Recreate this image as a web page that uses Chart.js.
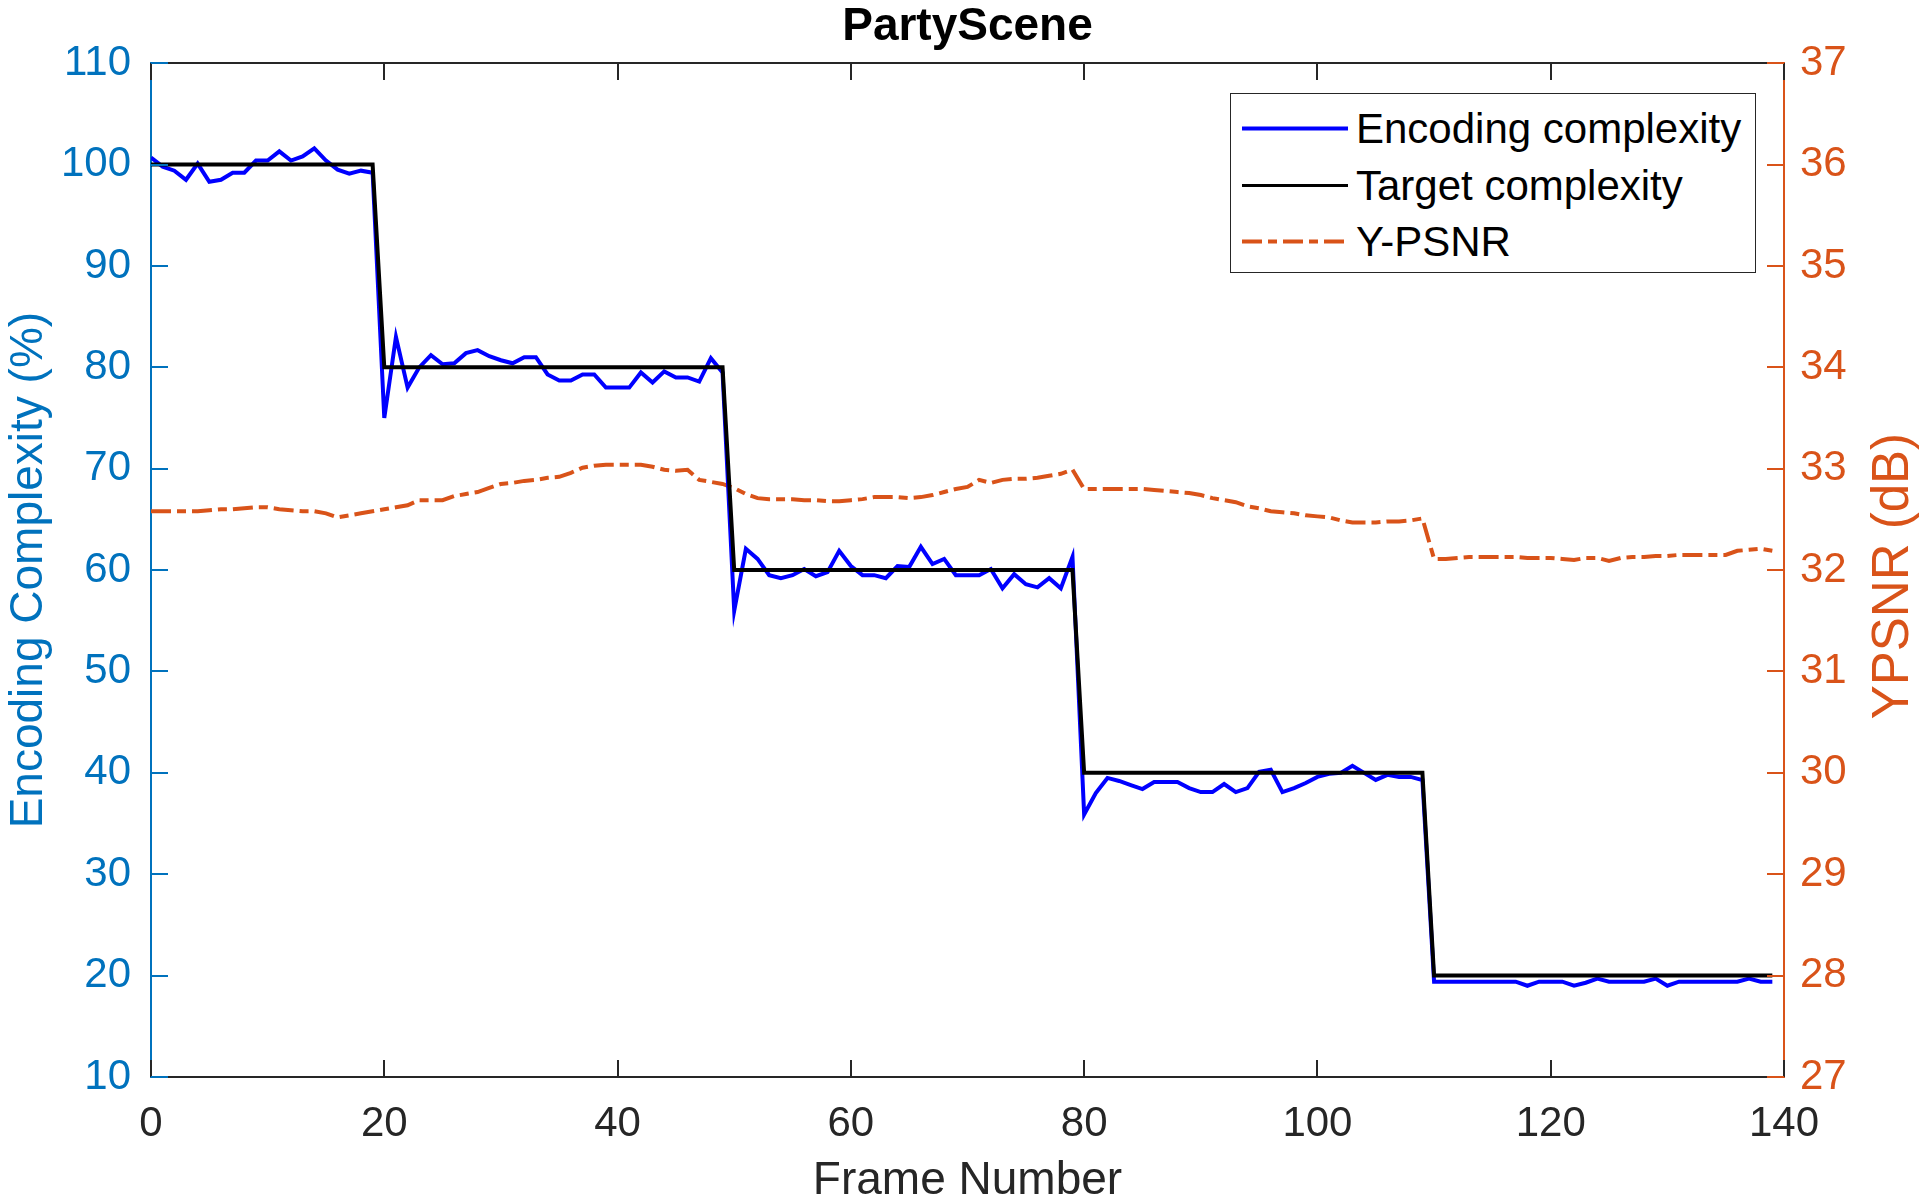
<!DOCTYPE html>
<html>
<head>
<meta charset="utf-8">
<script src="https://cdn.jsdelivr.net/npm/chart.js@4.4.1/dist/chart.umd.min.js"></script>
<style>
html,body{margin:0;padding:0;background:#fff;}
#wrap{position:relative;width:1920px;height:1204px;}
canvas{display:block;}
#legend{position:absolute;left:1230px;top:93px;width:524px;height:178px;border:1.5px solid #262626;background:#fff;font-family:"Liberation Sans",Arial,sans-serif;font-size:42px;color:#000;}
.row{position:absolute;left:0;height:57px;line-height:57px;width:100%;}
.row svg{position:absolute;left:11px;top:0;}
.row span{position:absolute;left:125px;top:0;white-space:nowrap;}
</style>
</head>
<body>
<div id="wrap">
  <canvas id="c" width="1920" height="1204"></canvas>
  <div id="legend"></div>
</div>
<script>
// ---------- data ----------
const chartTitle = "PartyScene";
const xTitle = "Frame Number";
const yLeftTitle = "Encoding Complexity (%)";
const yRightTitle = "YPSNR (dB)";
const seriesNames = ["Encoding complexity", "Target complexity", "Y-PSNR"];

const frames = [
  0,1,2,3,4,5,6,7,8,9,10,11,12,13,14,15,16,17,18,19,
  20,21,22,23,24,25,26,27,28,29,30,31,32,33,34,35,36,37,38,39,
  40,41,42,43,44,45,46,47,48,49,50,51,52,53,54,55,56,57,58,59,
  60,61,62,63,64,65,66,67,68,69,70,71,72,73,74,75,76,77,78,79,
  80,81,82,83,84,85,86,87,88,89,90,91,92,93,94,95,96,97,98,99,
  100,101,102,103,104,105,106,107,108,109,110,111,112,113,114,115,116,117,118,119,
  120,121,122,123,124,125,126,127,128,129,130,131,132,133,134,135,136,137,138,139
];

const encodingComplexity = [
  100.7,99.8,99.4,98.5,100.1,98.3,98.5,99.2,99.2,100.4,100.4,101.3,100.4,100.8,101.6,100.4,99.5,99.1,99.4,99.2,
  75.0,83.0,78.0,80.0,81.2,80.3,80.4,81.4,81.7,81.1,80.7,80.4,81.0,81.0,79.3,78.7,78.7,79.3,79.3,78.0,
  78.0,78.0,79.5,78.5,79.6,79.0,79.0,78.6,80.9,79.5,
  56.0,62.1,61.1,59.5,59.2,59.5,60.1,59.4,59.8,61.9,60.4,59.5,59.5,59.2,60.4,60.3,62.3,60.6,61.1,59.5,
  59.5,59.5,60.1,58.2,59.6,58.6,58.3,59.2,58.2,61.3,
  35.9,38.0,39.5,39.2,38.8,38.4,39.1,39.1,39.1,38.5,38.1,38.1,38.9,38.1,38.5,40.1,40.3,38.1,38.5,39.0,
  39.6,39.9,40.0,40.7,40.0,39.3,39.8,39.6,39.6,39.3,
  19.4,19.4,19.4,19.4,19.4,19.4,19.4,19.4,19.0,19.4,19.4,19.4,19.0,19.3,19.7,19.4,19.4,19.4,19.4,19.7,
  19.0,19.4,19.4,19.4,19.4,19.4,19.4,19.7,19.4,19.4
];

const targetComplexity = [
  100,100,100,100,100,100,100,100,100,100,100,100,100,100,100,100,100,100,100,100,
  80,80,80,80,80,80,80,80,80,80,80,80,80,80,80,80,80,80,80,80,80,80,80,80,80,80,80,80,80,80,
  60,60,60,60,60,60,60,60,60,60,60,60,60,60,60,60,60,60,60,60,60,60,60,60,60,60,60,60,60,60,
  40,40,40,40,40,40,40,40,40,40,40,40,40,40,40,40,40,40,40,40,40,40,40,40,40,40,40,40,40,40,
  20,20,20,20,20,20,20,20,20,20,20,20,20,20,20,20,20,20,20,20,20,20,20,20,20,20,20,20,20,20
];

const yPsnr = [
  32.58,32.58,32.58,32.58,32.58,32.59,32.60,32.60,32.61,32.62,32.62,32.60,32.59,32.58,32.58,32.56,32.52,32.54,32.56,32.58,
  32.60,32.62,32.64,32.69,32.69,32.69,32.73,32.75,32.77,32.81,32.85,32.86,32.88,32.89,32.91,32.92,32.96,33.01,33.03,33.04,
  33.04,33.04,33.04,33.02,32.99,32.98,32.99,32.89,32.87,32.85,
  32.81,32.75,32.71,32.70,32.70,32.70,32.69,32.69,32.68,32.68,32.69,32.70,32.72,32.72,32.72,32.71,32.72,32.74,32.77,32.80,
  32.82,32.89,32.86,32.89,32.90,32.90,32.91,32.93,32.95,32.99,
  32.80,32.80,32.80,32.80,32.80,32.80,32.79,32.78,32.77,32.76,32.74,32.71,32.69,32.67,32.63,32.61,32.58,32.57,32.56,32.54,
  32.53,32.52,32.49,32.47,32.47,32.47,32.48,32.48,32.49,32.51,
  32.11,32.11,32.12,32.13,32.13,32.13,32.13,32.13,32.12,32.12,32.12,32.11,32.10,32.12,32.12,32.09,32.12,32.13,32.13,32.14,
  32.14,32.15,32.15,32.15,32.15,32.15,32.19,32.20,32.21,32.19
];

const xTicks = {min: 0, max: 140, step: 20};
const yLeftTicks = {min: 10, max: 110, step: 10};
const yRightTicks = {min: 27, max: 37, step: 1};

// ---------- styles ----------
const COL_BLUE = '#0000FF';
const COL_BLACK = '#000000';
const COL_ORANGE = '#D95319';
const COL_LEFT = '#0072BD';
const COL_AX = '#262626';
const DASHDOT = [20, 6, 9, 6];
const FONT = '"Liberation Sans", Arial, Helvetica, sans-serif';

const toPts = (xs, ys) => xs.map((x, i) => ({x: x, y: ys[i]}));

Chart.defaults.font.family = FONT;

const decor = {
  id: 'decor',
  afterDraw(chart) {
    const {ctx, chartArea, scales} = chart;
    const {left, right, top, bottom} = chartArea;
    const L = 17;
    ctx.save();
    ctx.lineWidth = 2;
    ctx.lineCap = 'butt';
    const t = Math.round(top);
    // top box line
    ctx.strokeStyle = COL_AX;
    ctx.beginPath(); ctx.moveTo(left, t); ctx.lineTo(right, t); ctx.stroke();
    // x ticks (bottom + top, inward)
    ctx.beginPath();
    scales.x.ticks.forEach(tk => {
      const px = Math.round(scales.x.getPixelForValue(tk.value));
      ctx.moveTo(px, bottom); ctx.lineTo(px, bottom - L);
      ctx.moveTo(px, t); ctx.lineTo(px, t + L);
    });
    ctx.stroke();
    // left ticks
    ctx.strokeStyle = COL_LEFT;
    ctx.beginPath();
    scales.y.ticks.forEach(tk => {
      const py = Math.round(scales.y.getPixelForValue(tk.value));
      ctx.moveTo(left, py); ctx.lineTo(left + L, py);
    });
    ctx.stroke();
    // right ticks
    ctx.strokeStyle = COL_ORANGE;
    ctx.beginPath();
    scales.y1.ticks.forEach(tk => {
      const py = Math.round(scales.y1.getPixelForValue(tk.value));
      ctx.moveTo(right, py); ctx.lineTo(right - L, py);
    });
    ctx.stroke();
    // right axis title (reads bottom-to-top)
    ctx.fillStyle = COL_ORANGE;
    ctx.font = '51px ' + FONT;
    ctx.textAlign = 'center';
    ctx.textBaseline = 'middle';
    ctx.translate(1894, (top + bottom) / 2 + 6);
    ctx.rotate(-Math.PI / 2);
    ctx.fillText(yRightTitle, 0, 0);
    ctx.restore();
  }
};

new Chart(document.getElementById('c'), {
  type: 'line',
  data: {
    datasets: [
      {label: seriesNames[1], data: toPts(frames, targetComplexity), yAxisID: 'y',
       borderColor: COL_BLACK, borderWidth: 4, pointRadius: 0, tension: 0, fill: false, order: 0},
      {label: seriesNames[0], data: toPts(frames, encodingComplexity), yAxisID: 'y',
       borderColor: COL_BLUE, borderWidth: 4, pointRadius: 0, tension: 0, fill: false, order: 1},
      {label: seriesNames[2], data: toPts(frames, yPsnr), yAxisID: 'y1',
       borderColor: COL_ORANGE, borderWidth: 4, borderDash: DASHDOT, pointRadius: 0, tension: 0, fill: false, order: 2}
    ]
  },
  options: {
    responsive: false,
    animation: false,
    devicePixelRatio: 1,
    layout: {padding: 0},
    plugins: {
      legend: {display: false},
      tooltip: {enabled: false},
      title: {
        display: true, text: chartTitle, color: '#000', fullSize: false,
        font: {size: 46, weight: 'bold', lineHeight: 1.2},
        padding: {top: 0, bottom: 8}
      }
    },
    scales: {
      x: {
        type: 'linear', position: 'bottom',
        min: xTicks.min, max: xTicks.max,
        ticks: {stepSize: xTicks.step, color: COL_AX, font: {size: 42}, padding: 22, maxRotation: 0},
        grid: {display: false, drawTicks: false},
        border: {display: true, color: COL_AX, width: 2},
        title: {display: true, text: xTitle, color: COL_AX, font: {size: 46, lineHeight: 1}, padding: 0},
        afterFit(s) { s.height = 127; }
      },
      y: {
        type: 'linear', position: 'left',
        min: yLeftTicks.min, max: yLeftTicks.max,
        ticks: {stepSize: yLeftTicks.step, color: COL_LEFT, font: {size: 42}, padding: 20},
        grid: {display: false, drawTicks: false},
        border: {display: true, color: COL_LEFT, width: 2},
        title: {display: true, text: yLeftTitle, color: COL_LEFT, font: {size: 46, lineHeight: 1}, padding: {top: 6, bottom: 0}},
        afterFit(s) { s.width = 151; }
      },
      y1: {
        type: 'linear', position: 'right',
        min: yRightTicks.min, max: yRightTicks.max,
        ticks: {stepSize: yRightTicks.step, color: COL_ORANGE, font: {size: 42}, padding: 16},
        grid: {display: false, drawTicks: false},
        border: {display: true, color: COL_ORANGE, width: 2},
        afterFit(s) { s.width = 136; }
      }
    }
  },
  plugins: [decor]
});

// ---------- HTML legend ----------
const legendSpec = [
  {name: seriesNames[0], color: COL_BLUE, dash: null},
  {name: seriesNames[1], color: COL_BLACK, dash: null},
  {name: seriesNames[2], color: COL_ORANGE, dash: DASHDOT}
];
const rowTops = [6, 63, 119];
const lg = document.getElementById('legend');
legendSpec.forEach((s, i) => {
  const row = document.createElement('div');
  row.className = 'row';
  row.style.top = rowTops[i] + 'px';
  const dash = s.dash ? ' stroke-dasharray="' + s.dash.join(' ') + '"' : '';
  row.innerHTML = '<svg width="106" height="57"><line x1="0" y1="28.5" x2="106" y2="28.5" stroke="' + s.color +
    '" stroke-width="' + (i === 1 ? 3 : 4) + '"' + dash + '/></svg><span></span>';
  row.querySelector('span').textContent = s.name;
  lg.appendChild(row);
});
</script>
</body>
</html>
